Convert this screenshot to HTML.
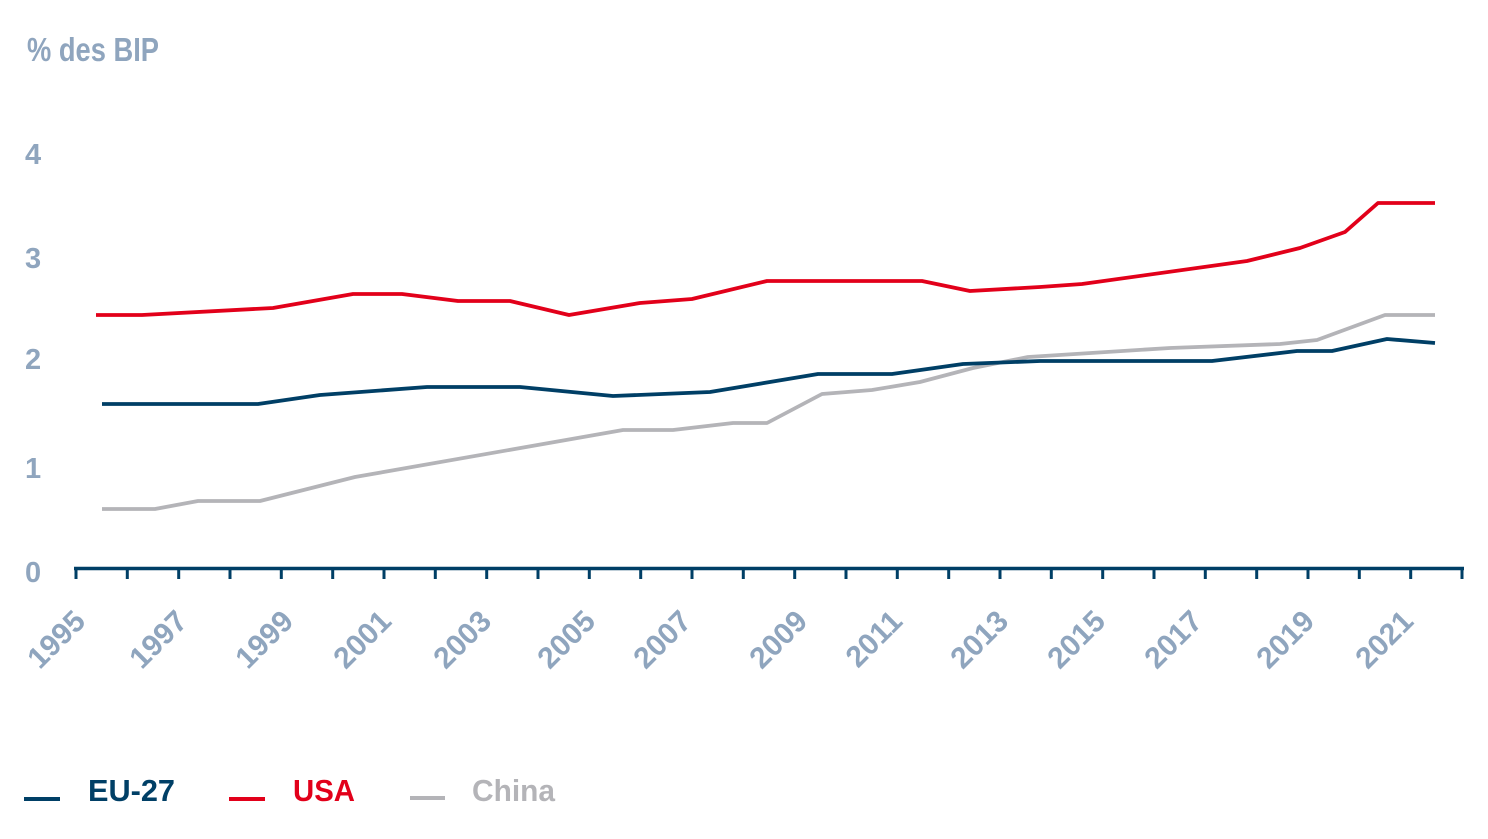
<!DOCTYPE html>
<html>
<head>
<meta charset="utf-8">
<style>
  html,body{margin:0;padding:0;background:#ffffff;}
  svg{display:block;}
  text{font-family:"Liberation Sans",Arial,sans-serif;font-weight:bold;}
</style>
</head>
<body>
<svg width="1488" height="839" viewBox="0 0 1488 839" xmlns="http://www.w3.org/2000/svg">
  <rect width="1488" height="839" fill="#ffffff"/>
  <!-- title -->
  <text x="27" y="61" font-size="33" fill="#8fa5be" textLength="132" lengthAdjust="spacingAndGlyphs">% des BIP</text>
  <!-- y labels -->
  <g font-size="29" fill="#8fa5be">
    <text x="25" y="164">4</text>
    <text x="25" y="268">3</text>
    <text x="25" y="369">2</text>
    <text x="25" y="478">1</text>
    <text x="25" y="582">0</text>
  </g>
  <!-- series -->
  <g fill="none" stroke-width="3.8" stroke-linejoin="round">
    <polyline stroke="#b4b4b8" points="102,509 155,509 198,501 260,501 355,477 623,430 673,430 733,423 767,423 822,394 872,390 920,382 973,368 1028,357 1170,348 1280,344 1317,340 1385,315 1435,315"/>
    <polyline stroke="#003f66" points="102,404 258,404 320,395 427,387 520,387 613,396 710,392 818,374 892,374 963,364 1040,361 1212,361 1297,351 1332,351 1387,339 1435,343"/>
    <polyline stroke="#e2001a" points="96,315 142,315 273,308 353,294 402,294 458,301 510,301 569,315 640,303 692,299 767,281 922,281 970,291 1040,287 1082,284 1247,261 1300,248 1345,232 1378,203 1435,203"/>
  </g>
  <!-- x axis -->
  <line x1="74" y1="568.5" x2="1464" y2="568.5" stroke="#003f66" stroke-width="3.5"/>
  <g stroke="#003f66" stroke-width="3">
    <line x1="76" y1="568" x2="76" y2="579"/>
    <line x1="127.3" y1="568" x2="127.3" y2="579"/>
    <line x1="178.7" y1="568" x2="178.7" y2="579"/>
    <line x1="230" y1="568" x2="230" y2="579"/>
    <line x1="281.3" y1="568" x2="281.3" y2="579"/>
    <line x1="332.7" y1="568" x2="332.7" y2="579"/>
    <line x1="384" y1="568" x2="384" y2="579"/>
    <line x1="435.3" y1="568" x2="435.3" y2="579"/>
    <line x1="486.7" y1="568" x2="486.7" y2="579"/>
    <line x1="538" y1="568" x2="538" y2="579"/>
    <line x1="589.3" y1="568" x2="589.3" y2="579"/>
    <line x1="640.7" y1="568" x2="640.7" y2="579"/>
    <line x1="692" y1="568" x2="692" y2="579"/>
    <line x1="743.3" y1="568" x2="743.3" y2="579"/>
    <line x1="794.7" y1="568" x2="794.7" y2="579"/>
    <line x1="846" y1="568" x2="846" y2="579"/>
    <line x1="897.3" y1="568" x2="897.3" y2="579"/>
    <line x1="948.7" y1="568" x2="948.7" y2="579"/>
    <line x1="1000" y1="568" x2="1000" y2="579"/>
    <line x1="1051.3" y1="568" x2="1051.3" y2="579"/>
    <line x1="1102.7" y1="568" x2="1102.7" y2="579"/>
    <line x1="1154" y1="568" x2="1154" y2="579"/>
    <line x1="1205.3" y1="568" x2="1205.3" y2="579"/>
    <line x1="1256.7" y1="568" x2="1256.7" y2="579"/>
    <line x1="1308" y1="568" x2="1308" y2="579"/>
    <line x1="1359.3" y1="568" x2="1359.3" y2="579"/>
    <line x1="1410.7" y1="568" x2="1410.7" y2="579"/>
    <line x1="1462" y1="568" x2="1462" y2="579"/>
  </g>
  <!-- x labels -->
  <g font-size="30" fill="#8fa5be" text-anchor="end">
    <text transform="translate(87,623) rotate(-45)">1995</text>
    <text transform="translate(189,623) rotate(-45)">1997</text>
    <text transform="translate(295,623) rotate(-45)">1999</text>
    <text transform="translate(393,623) rotate(-45)">2001</text>
    <text transform="translate(493,623) rotate(-45)">2003</text>
    <text transform="translate(597,623) rotate(-45)">2005</text>
    <text transform="translate(693,623) rotate(-45)">2007</text>
    <text transform="translate(809,623) rotate(-45)">2009</text>
    <text transform="translate(904,623) rotate(-45)">2011</text>
    <text transform="translate(1010,623) rotate(-45)">2013</text>
    <text transform="translate(1107,623) rotate(-45)">2015</text>
    <text transform="translate(1204,623) rotate(-45)">2017</text>
    <text transform="translate(1316,623) rotate(-45)">2019</text>
    <text transform="translate(1415,623) rotate(-45)">2021</text>
  </g>
  <!-- legend -->
  <line x1="24" y1="799" x2="60" y2="799" stroke="#003f66" stroke-width="4"/>
  <text x="88" y="801" font-size="31" fill="#003f66" textLength="87" lengthAdjust="spacingAndGlyphs">EU-27</text>
  <line x1="229" y1="799" x2="265" y2="799" stroke="#e2001a" stroke-width="4"/>
  <text x="293" y="801" font-size="31" fill="#e2001a" textLength="62" lengthAdjust="spacingAndGlyphs">USA</text>
  <line x1="410" y1="798" x2="445" y2="798" stroke="#b4b4b8" stroke-width="4"/>
  <text x="472" y="801" font-size="31" fill="#b4b4b8" textLength="83" lengthAdjust="spacingAndGlyphs">China</text>
</svg>
</body>
</html>
